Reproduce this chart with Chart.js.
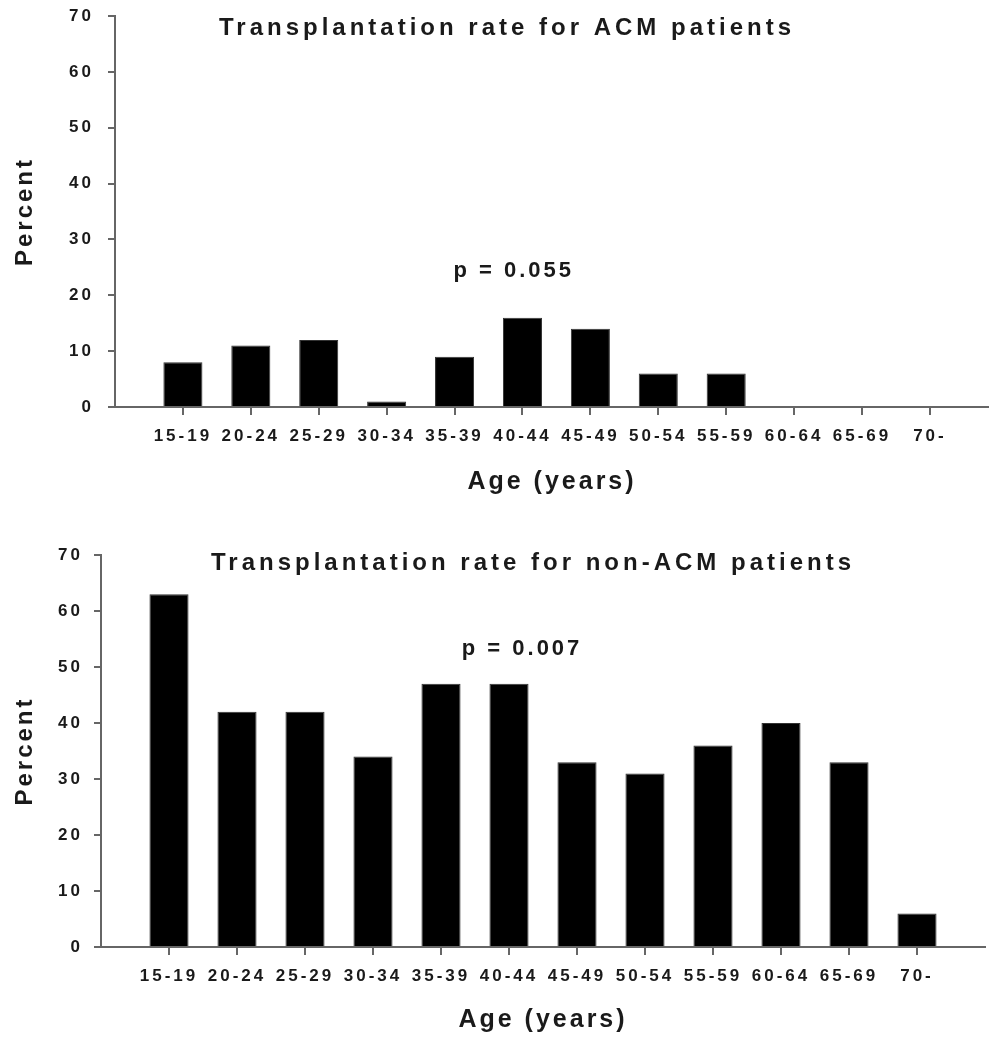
<!DOCTYPE html>
<html>
<head>
<meta charset="utf-8">
<title>Transplantation rate by age</title>
<script src="https://cdn.jsdelivr.net/npm/chart.js@4.4.1/dist/chart.umd.min.js"></script>
<style>
  body { margin: 0; background: #fff; }
  .panel { position: absolute; left: 0; }
</style>
</head>
<body>
<canvas id="acmChart" class="panel" width="989" height="510" style="top:0"></canvas>
<canvas id="nonAcmChart" class="panel" width="989" height="528" style="top:510px"></canvas>
<script>
// age groups on the x axis
const ageGroups = ['15-19', '20-24', '25-29', '30-34', '35-39', '40-44',
                   '45-49', '50-54', '55-59', '60-64', '65-69', '70-'];

// percent transplanted per age group
const acmRates = [8, 11, 12, 1, 9, 16, 14, 6, 6, 0, 0, 0];
const nonAcmRates = [63, 42, 42, 34, 47, 47, 33, 31, 36, 40, 33, 6];

// y axis
const percentMin = 0;
const percentMax = 70;
const percentStep = 10;

const acmTitle = 'Transplantation rate for ACM patients';
const nonAcmTitle = 'Transplantation rate for non-ACM patients';
const acmNote = 'p = 0.055';
const nonAcmNote = 'p = 0.007';

const FONT = '"Liberation Sans", Arial, Helvetica, sans-serif';
const TEXT = '#1a1a1a';
const AXIS = '#666';

// spaced-out lettering like the original figure
const spacingPlugin = {
    id: 'spacing',
    beforeUpdate(chart) { chart.ctx.letterSpacing = '3px'; },
    beforeDraw(chart) { chart.ctx.letterSpacing = '3px'; }
};

// panel title and p value
const panelText = {
    id: 'panelText',
    afterDraw(chart, args, opts) {
        const ctx = chart.ctx;
        const { x, y } = chart.scales;
        ctx.save();
        ctx.fillStyle = TEXT;
        ctx.textAlign = 'center';
        ctx.textBaseline = 'middle';
        ctx.letterSpacing = '4px';
        ctx.font = 'bold 24px ' + FONT;
        ctx.fillText(opts.title, opts.titleX + 2, opts.titleY);
        ctx.letterSpacing = '3px';
        ctx.font = 'bold 22px ' + FONT;
        ctx.fillText(opts.note, x.getPixelForValue(opts.noteAt[0]) + 1.5, y.getPixelForValue(opts.noteAt[1]));
        ctx.restore();
    }
};

function makeChart(id, values, cfg) {
    return new Chart(document.getElementById(id), {
        type: 'bar',
        data: {
            datasets: [{
                data: values.map((v, i) => ({ x: i, y: v })),
                backgroundColor: '#000',
                borderColor: '#333',
                borderWidth: 1,
                barPercentage: 0.575,
                categoryPercentage: 1
            }]
        },
        options: {
            responsive: false,
            animation: false,
            layout: { padding: { top: cfg.top, right: cfg.right, left: 0, bottom: 0 } },
            plugins: {
                legend: { display: false },
                tooltip: { enabled: false },
                panelText: {
                    title: cfg.title, titleX: cfg.titleX, titleY: cfg.titleY,
                    note: cfg.note, noteAt: cfg.noteAt
                }
            },
            scales: {
                x: {
                    type: 'linear',
                    min: -1,
                    max: cfg.xMax,
                    offset: false,
                    afterBuildTicks: s => { s.ticks = ageGroups.map((g, i) => ({ value: i })); },
                    afterFit: s => { s.height = cfg.xHeight; },
                    ticks: {
                        callback: v => ageGroups[v],
                        autoSkip: false,
                        maxRotation: 0,
                        padding: 11,
                        color: TEXT,
                        font: { family: FONT, size: 17, weight: 'bold' }
                    },
                    grid: { offset: false, drawOnChartArea: false, tickLength: 8, color: AXIS, lineWidth: 2 },
                    border: { color: AXIS, width: 2 },
                    title: {
                        display: true,
                        text: 'Age (years)',
                        color: TEXT,
                        font: { family: FONT, size: 25, weight: 'bold' },
                        padding: { top: 0, bottom: cfg.xTitlePad }
                    }
                },
                y: {
                    min: percentMin,
                    max: percentMax,
                    afterFit: s => {
                        s.width = cfg.yWidth;
                        s.paddingTop = 0;
                        s.paddingBottom = 0;
                    },
                    ticks: {
                        stepSize: percentStep,
                        padding: cfg.yTickPad,
                        color: TEXT,
                        font: { family: FONT, size: 17, weight: 'bold' }
                    },
                    grid: { drawOnChartArea: false, tickLength: 7, color: AXIS, lineWidth: 2 },
                    border: { color: AXIS, width: 2 },
                    title: {
                        display: true,
                        text: 'Percent',
                        color: TEXT,
                        font: { family: FONT, size: 24, weight: 'bold' },
                        padding: { top: 11, bottom: 0 }
                    }
                }
            }
        },
        plugins: [spacingPlugin, panelText]
    });
}

makeChart('acmChart', acmRates, {
    top: 16, right: 0, xMax: 11.87, xHeight: 103, xTitlePad: 13,
    yWidth: 115, yTickPad: 14,
    title: acmTitle, titleX: 505, titleY: 28,
    note: acmNote, noteAt: [4.85, 24.4]
});

makeChart('nonAcmChart', nonAcmRates, {
    top: 45, right: 4, xMax: 12, xHeight: 91, xTitlePad: 3,
    yWidth: 101, yTickPad: 11,
    title: nonAcmTitle, titleX: 531, titleY: 53,
    note: nonAcmNote, noteAt: [5.17, 53.3]
});
</script>
</body>
</html>
